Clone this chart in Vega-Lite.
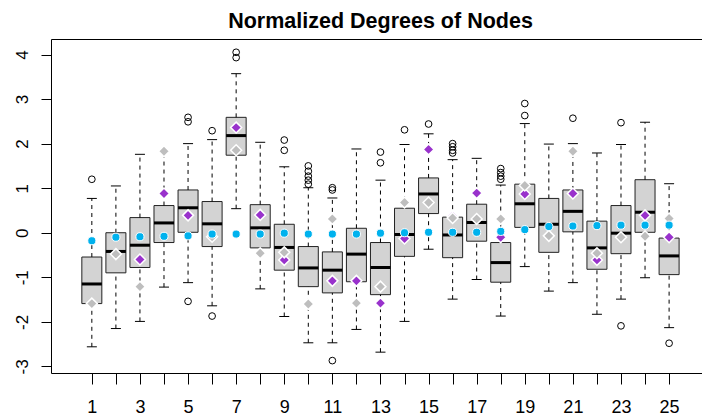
{
  "$schema": "https://vega.github.io/schema/vega-lite/v6.json",
  "width": 651,
  "height": 334,
  "autosize": {"type": "none"},
  "padding": {"left": 51, "top": 39, "right": 0, "bottom": 43},
  "background": "white",
  "config": {
    "view": {"stroke": null},
    "font": "Liberation Sans",
    "axis": {"grid": false, "title": null}
  },
  "title": {
    "text": "Normalized Degrees of Nodes",
    "font": "Liberation Sans",
    "fontSize": 21.5,
    "fontWeight": "bold",
    "color": "black",
    "anchor": "middle",
    "baseline": "alphabetic",
    "dx": 4,
    "dy": 23,
    "offset": 13
  },
  "datasets": {
    "boxes": [
      {"g": 1, "lo": -2.56, "q1": -1.59, "med": -1.15, "q3": -0.545, "hi": 0.77},
      {"g": 2, "lo": -2.15, "q1": -0.90, "med": -0.42, "q3": 0.0, "hi": 1.05},
      {"g": 3, "lo": -1.99, "q1": -0.78, "med": -0.28, "q3": 0.34, "hi": 1.76},
      {"g": 4, "lo": -1.22, "q1": -0.22, "med": 0.22, "q3": 0.61, "hi": 1.83},
      {"g": 5, "lo": -1.12, "q1": 0.01, "med": 0.56, "q3": 0.96, "hi": 2.00},
      {"g": 6, "lo": -1.64, "q1": -0.31, "med": 0.20, "q3": 0.70, "hi": 2.09},
      {"g": 7, "lo": 0.54, "q1": 1.74, "med": 2.18, "q3": 2.59, "hi": 3.57},
      {"g": 8, "lo": -1.26, "q1": -0.34, "med": 0.11, "q3": 0.63, "hi": 2.03},
      {"g": 9, "lo": -1.88, "q1": -0.84, "med": -0.33, "q3": 0.19, "hi": 1.48},
      {"g": 10, "lo": -2.47, "q1": -1.21, "med": -0.79, "q3": -0.31, "hi": 1.01},
      {"g": 11, "lo": -2.47, "q1": -1.35, "med": -0.84, "q3": -0.43, "hi": 0.78},
      {"g": 12, "lo": -2.17, "q1": -1.10, "med": -0.48, "q3": 0.10, "hi": 1.88},
      {"g": 13, "lo": -2.68, "q1": -1.39, "med": -0.78, "q3": -0.22, "hi": 1.18},
      {"g": 14, "lo": -1.99, "q1": -0.53, "med": -0.04, "q3": 0.55, "hi": 1.98},
      {"g": 15, "lo": -0.37, "q1": 0.43, "med": 0.87, "q3": 1.23, "hi": 2.22},
      {"g": 16, "lo": -1.49, "q1": -0.56, "med": -0.05, "q3": 0.35, "hi": 1.64},
      {"g": 17, "lo": -1.05, "q1": -0.19, "med": 0.23, "q3": 0.64, "hi": 1.67},
      {"g": 18, "lo": -1.87, "q1": -1.11, "med": -0.67, "q3": -0.22, "hi": 1.07},
      {"g": 19, "lo": -0.76, "q1": 0.12, "med": 0.65, "q3": 1.09, "hi": 2.45},
      {"g": 20, "lo": -1.31, "q1": -0.44, "med": 0.19, "q3": 0.77, "hi": 1.99},
      {"g": 21, "lo": -1.12, "q1": 0.02, "med": 0.48, "q3": 0.96, "hi": 2.00},
      {"g": 22, "lo": -1.83, "q1": -0.82, "med": -0.34, "q3": 0.26, "hi": 1.79},
      {"g": 23, "lo": -1.49, "q1": -0.47, "med": -0.01, "q3": 0.61, "hi": 1.98},
      {"g": 24, "lo": -1.01, "q1": 0.01, "med": 0.46, "q3": 1.19, "hi": 2.48},
      {"g": 25, "lo": -2.13, "q1": -0.94, "med": -0.52, "q3": -0.12, "hi": 1.10}
    ],
    "outliers": [
      {"g": 1, "v": 1.20},
      {"g": 5, "v": 2.59}, {"g": 5, "v": 2.49}, {"g": 5, "v": -1.54},
      {"g": 6, "v": 2.29}, {"g": 6, "v": -1.87},
      {"g": 7, "v": 4.05}, {"g": 7, "v": 3.93},
      {"g": 9, "v": 2.08}, {"g": 9, "v": 1.85},
      {"g": 10, "v": 1.50}, {"g": 10, "v": 1.38}, {"g": 10, "v": 1.27}, {"g": 10, "v": 1.18}, {"g": 10, "v": 1.09},
      {"g": 11, "v": 1.01}, {"g": 11, "v": 0.96}, {"g": 11, "v": -2.87},
      {"g": 13, "v": 1.81}, {"g": 13, "v": 1.57},
      {"g": 14, "v": 2.31},
      {"g": 15, "v": 2.44},
      {"g": 16, "v": 2.00}, {"g": 16, "v": 1.93}, {"g": 16, "v": 1.85}, {"g": 16, "v": 1.79},
      {"g": 18, "v": 1.44}, {"g": 18, "v": 1.35}, {"g": 18, "v": 1.27}, {"g": 18, "v": 1.20},
      {"g": 19, "v": 2.90}, {"g": 19, "v": 2.63},
      {"g": 21, "v": 2.57},
      {"g": 23, "v": 2.47}, {"g": 23, "v": -2.09},
      {"g": 25, "v": -2.48}
    ],
    "markers": [
      {"g": 3, "v": -0.60, "kind": "purple"},
      {"g": 4, "v": 0.88, "kind": "purple"},
      {"g": 5, "v": 0.39, "kind": "purple"},
      {"g": 7, "v": 2.36, "kind": "purple"},
      {"g": 8, "v": 0.40, "kind": "purple"},
      {"g": 9, "v": -0.61, "kind": "purple"},
      {"g": 11, "v": -1.08, "kind": "purple"},
      {"g": 12, "v": -1.08, "kind": "purple"},
      {"g": 13, "v": -1.58, "kind": "purple"},
      {"g": 14, "v": -0.13, "kind": "purple"},
      {"g": 15, "v": 1.87, "kind": "purple"},
      {"g": 16, "v": 0.37, "kind": "purple"},
      {"g": 17, "v": 0.89, "kind": "purple"},
      {"g": 18, "v": -0.10, "kind": "purple"},
      {"g": 19, "v": 0.87, "kind": "purple"},
      {"g": 21, "v": 0.88, "kind": "purple"},
      {"g": 22, "v": -0.61, "kind": "purple"},
      {"g": 24, "v": 0.39, "kind": "purple"},
      {"g": 25, "v": -0.10, "kind": "purple"},
      {"g": 1, "v": -1.59, "kind": "gray"},
      {"g": 2, "v": -0.48, "kind": "gray"},
      {"g": 3, "v": -1.21, "kind": "gray"},
      {"g": 4, "v": 1.83, "kind": "gray"},
      {"g": 6, "v": -0.09, "kind": "gray"},
      {"g": 7, "v": 1.85, "kind": "gray"},
      {"g": 8, "v": -0.46, "kind": "gray"},
      {"g": 9, "v": -0.44, "kind": "gray"},
      {"g": 10, "v": -1.60, "kind": "gray"},
      {"g": 11, "v": 0.31, "kind": "gray"},
      {"g": 12, "v": -1.58, "kind": "gray"},
      {"g": 13, "v": -1.21, "kind": "gray"},
      {"g": 14, "v": 0.68, "kind": "gray"},
      {"g": 15, "v": 0.68, "kind": "gray"},
      {"g": 16, "v": 0.33, "kind": "gray"},
      {"g": 17, "v": 0.31, "kind": "gray"},
      {"g": 18, "v": 0.31, "kind": "gray"},
      {"g": 19, "v": 1.06, "kind": "gray"},
      {"g": 20, "v": -0.07, "kind": "gray"},
      {"g": 21, "v": 1.83, "kind": "gray"},
      {"g": 22, "v": -0.46, "kind": "gray"},
      {"g": 23, "v": -0.10, "kind": "gray"},
      {"g": 24, "v": -0.08, "kind": "gray"},
      {"g": 25, "v": 0.32, "kind": "gray"},
      {"g": 1, "v": -0.18, "kind": "blue"},
      {"g": 2, "v": -0.10, "kind": "blue"},
      {"g": 3, "v": -0.09, "kind": "blue"},
      {"g": 4, "v": -0.08, "kind": "blue"},
      {"g": 5, "v": -0.07, "kind": "blue"},
      {"g": 6, "v": -0.03, "kind": "blue"},
      {"g": 7, "v": -0.03, "kind": "blue"},
      {"g": 8, "v": -0.03, "kind": "blue"},
      {"g": 9, "v": -0.01, "kind": "blue"},
      {"g": 10, "v": -0.03, "kind": "blue"},
      {"g": 11, "v": -0.03, "kind": "blue"},
      {"g": 12, "v": -0.03, "kind": "blue"},
      {"g": 13, "v": -0.01, "kind": "blue"},
      {"g": 14, "v": 0.00, "kind": "blue"},
      {"g": 15, "v": 0.01, "kind": "blue"},
      {"g": 16, "v": 0.01, "kind": "blue"},
      {"g": 17, "v": 0.01, "kind": "blue"},
      {"g": 18, "v": 0.03, "kind": "blue"},
      {"g": 19, "v": 0.07, "kind": "blue"},
      {"g": 20, "v": 0.14, "kind": "blue"},
      {"g": 21, "v": 0.15, "kind": "blue"},
      {"g": 22, "v": 0.16, "kind": "blue"},
      {"g": 23, "v": 0.17, "kind": "blue"},
      {"g": 24, "v": 0.17, "kind": "blue"},
      {"g": 25, "v": 0.17, "kind": "blue"}
    ]
  },
  "resolve": {"axis": {"x": "independent", "y": "independent"}},
  "layer": [
    {
      "data": {"name": "boxes"},
      "mark": {"type": "bar", "size": 20, "fill": "#D3D3D3", "stroke": "#222222", "strokeWidth": 1},
      "encoding": {
        "x": {
          "field": "g", "type": "quantitative",
          "scale": {"domain": [-0.49, 26.16], "nice": false, "zero": false},
          "axis": {
            "orient": "bottom",
            "values": [1, 2, 3, 4, 5, 6, 7, 8, 9, 10, 11, 12, 13, 14, 15, 16, 17, 18, 19, 20, 21, 22, 23, 24, 25],
            "labelExpr": "datum.value % 2 == 1 ? '' + datum.value : ''",
            "tickSize": 11, "tickColor": "black", "tickWidth": 1,
            "domainColor": "black", "domainWidth": 1,
            "labelFont": "Liberation Sans", "labelFontSize": 18, "labelColor": "black",
            "labelPadding": 14, "labelFlush": false, "labelOverlap": false, "labelBound": false
          }
        },
        "y": {
          "field": "q1", "type": "quantitative",
          "scale": {"domain": [-3.148, 4.348], "nice": false, "zero": false},
          "axis": {
            "orient": "left",
            "values": [-3, -2, -1, 0, 1, 2, 3, 4],
            "labelExpr": "'' + datum.value",
            "tickSize": 10, "tickColor": "black", "tickWidth": 1,
            "domainColor": "black", "domainWidth": 1,
            "labelAngle": -90, "labelAlign": "center", "labelBaseline": "middle",
            "labelFont": "Liberation Sans", "labelFontSize": 17, "labelColor": "black",
            "labelPadding": 19, "labelFlush": false, "labelOverlap": false, "labelBound": false
          }
        },
        "y2": {"field": "q3"}
      }
    },
    {
      "data": {"name": "boxes"},
      "mark": {"type": "rule", "color": "black", "strokeWidth": 1, "strokeDash": [4, 4]},
      "encoding": {
        "x": {
          "field": "g", "type": "quantitative",
          "scale": {"domain": [-0.49, 26.16], "nice": false, "zero": false},
          "axis": {"orient": "top", "labels": false, "ticks": false, "domainColor": "black", "domainWidth": 1}
        },
        "y": {"field": "q3", "type": "quantitative", "scale": {"domain": [-3.148, 4.348], "nice": false, "zero": false}, "axis": null},
        "y2": {"field": "hi"}
      }
    },
    {
      "data": {"name": "boxes"},
      "mark": {"type": "rule", "color": "black", "strokeWidth": 1, "strokeDash": [4, 4]},
      "encoding": {
        "x": {"field": "g", "type": "quantitative", "scale": {"domain": [-0.49, 26.16], "nice": false, "zero": false}, "axis": null},
        "y": {"field": "lo", "type": "quantitative", "scale": {"domain": [-3.148, 4.348], "nice": false, "zero": false}, "axis": null},
        "y2": {"field": "q1"}
      }
    },
    {
      "data": {"name": "boxes"},
      "mark": {"type": "tick", "orient": "horizontal", "size": 10, "thickness": 1, "color": "black", "opacity": 1},
      "encoding": {
        "x": {"field": "g", "type": "quantitative", "scale": {"domain": [-0.49, 26.16], "nice": false, "zero": false}, "axis": null},
        "y": {"field": "hi", "type": "quantitative", "scale": {"domain": [-3.148, 4.348], "nice": false, "zero": false}, "axis": null}
      }
    },
    {
      "data": {"name": "boxes"},
      "mark": {"type": "tick", "orient": "horizontal", "size": 10, "thickness": 1, "color": "black", "opacity": 1},
      "encoding": {
        "x": {"field": "g", "type": "quantitative", "scale": {"domain": [-0.49, 26.16], "nice": false, "zero": false}, "axis": null},
        "y": {"field": "lo", "type": "quantitative", "scale": {"domain": [-3.148, 4.348], "nice": false, "zero": false}, "axis": null}
      }
    },
    {
      "data": {"name": "boxes"},
      "mark": {"type": "tick", "orient": "horizontal", "size": 20, "thickness": 3, "color": "black", "opacity": 1},
      "encoding": {
        "x": {"field": "g", "type": "quantitative", "scale": {"domain": [-0.49, 26.16], "nice": false, "zero": false}, "axis": null},
        "y": {"field": "med", "type": "quantitative", "scale": {"domain": [-3.148, 4.348], "nice": false, "zero": false}, "axis": null}
      }
    },
    {
      "data": {"name": "outliers"},
      "mark": {"type": "point", "shape": "circle", "filled": false, "stroke": "black", "strokeWidth": 1, "size": 45, "opacity": 1},
      "encoding": {
        "x": {"field": "g", "type": "quantitative", "scale": {"domain": [-0.49, 26.16], "nice": false, "zero": false}, "axis": null},
        "y": {"field": "v", "type": "quantitative", "scale": {"domain": [-3.148, 4.348], "nice": false, "zero": false}, "axis": null}
      }
    },
    {
      "data": {"name": "markers"},
      "transform": [{"filter": "datum.kind == 'purple'"}],
      "mark": {"type": "point", "shape": "diamond", "filled": true, "fill": "#9932CC", "stroke": "white", "strokeWidth": 1.5, "size": 120, "opacity": 1},
      "encoding": {
        "x": {"field": "g", "type": "quantitative", "scale": {"domain": [-0.49, 26.16], "nice": false, "zero": false}, "axis": null},
        "y": {"field": "v", "type": "quantitative", "scale": {"domain": [-3.148, 4.348], "nice": false, "zero": false}, "axis": null}
      }
    },
    {
      "data": {"name": "markers"},
      "transform": [{"filter": "datum.kind == 'gray'"}],
      "mark": {"type": "point", "shape": "diamond", "filled": true, "fill": "#BEBEBE", "stroke": "white", "strokeWidth": 1.5, "size": 120, "opacity": 1},
      "encoding": {
        "x": {"field": "g", "type": "quantitative", "scale": {"domain": [-0.49, 26.16], "nice": false, "zero": false}, "axis": null},
        "y": {"field": "v", "type": "quantitative", "scale": {"domain": [-3.148, 4.348], "nice": false, "zero": false}, "axis": null}
      }
    },
    {
      "data": {"name": "markers"},
      "transform": [{"filter": "datum.kind == 'blue'"}],
      "mark": {"type": "point", "shape": "circle", "filled": true, "fill": "#00B2EE", "stroke": "white", "strokeWidth": 1, "size": 66, "opacity": 1},
      "encoding": {
        "x": {"field": "g", "type": "quantitative", "scale": {"domain": [-0.49, 26.16], "nice": false, "zero": false}, "axis": null},
        "y": {"field": "v", "type": "quantitative", "scale": {"domain": [-3.148, 4.348], "nice": false, "zero": false}, "axis": null}
      }
    }
  ]
}
